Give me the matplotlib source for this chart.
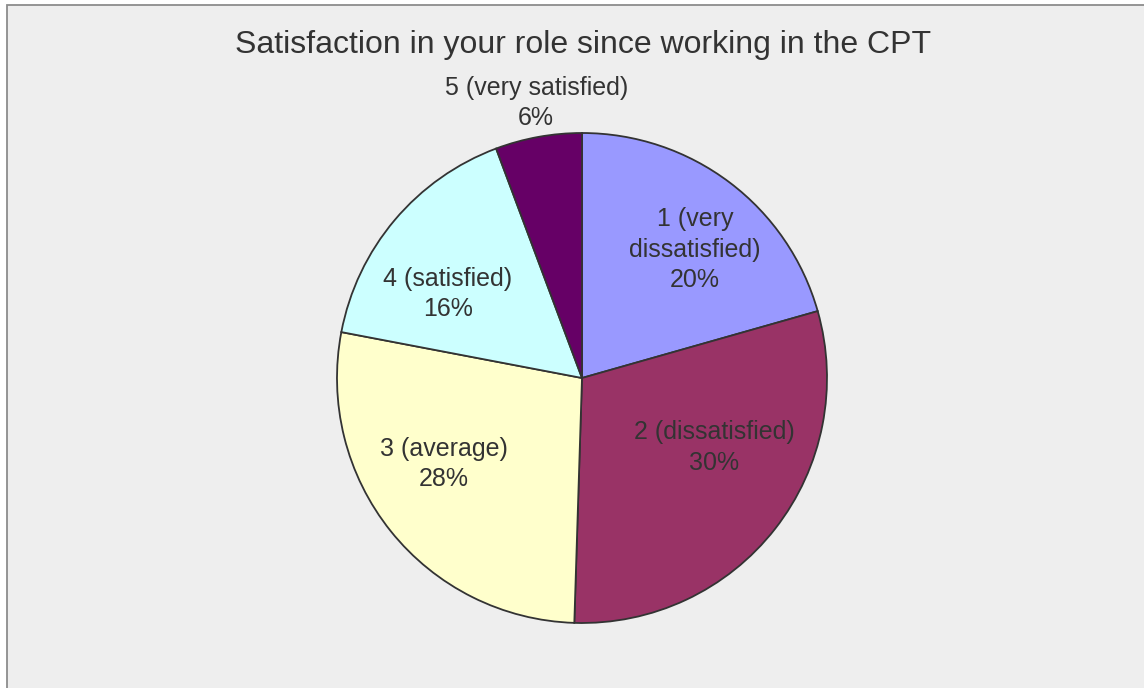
import matplotlib.pyplot as plt
from matplotlib.patches import Rectangle
import numpy as np

plt.rcParams['font.family'] = ['Liberation Sans', 'DejaVu Sans']

# data (wedge sizes as drawn, labels as printed)
categories = ['1 (very\ndissatisfied)', '2 (dissatisfied)', '3 (average)', '4 (satisfied)', '5 (very satisfied)']
shares = [20.6, 29.9, 27.5, 16.3, 5.7]
pct_labels = [20, 30, 28, 16, 6]
colors = ['#9999FF', '#993366', '#FFFFCC', '#CCFFFF', '#660066']
title = 'Satisfaction in your role since working in the CPT'

# label placement (radius fraction, angle shift in degrees)
label_r = [0.698, 0.61, 0.663, 0.645, 1.138]
label_shift = [-4.3, 10.3, -6.8, 8.1, -0.8]

W, H = 1144, 688
fig = plt.figure(figsize=(W / 100, H / 100), dpi=100)
fig.patch.set_facecolor('white')

# chart area background with border on left/top
bg = Rectangle((7 / W, -0.02), 1.05, 1 - 5 / H + 0.02, transform=fig.transFigure,
               facecolor='#EEEEEE', edgecolor='#8C8C8C', linewidth=1.3, zorder=-5)
fig.patches.append(bg)

fig.text(583 / W, 1 - 45 / H, title, ha='center', va='center', fontsize=23, color='#333333')

# pie centred at (582, 378) with radius 245 px
R = 245
lim = 1.25
cx, cy = 582, H - 378
ax = fig.add_axes([(cx - lim * R) / W, (cy - lim * R) / H, 2 * lim * R / W, 2 * lim * R / H])
ax.set_zorder(2)
ax.set_facecolor('none')
wedges, _ = ax.pie(shares, colors=colors, startangle=90, counterclock=False, radius=1,
                   wedgeprops=dict(edgecolor='#333333', linewidth=1.3))
ax.set_xlim(-lim, lim)
ax.set_ylim(-lim, lim)
ax.set_aspect('equal')
ax.axis('off')

for w, cat, p, r, s in zip(wedges, categories, pct_labels, label_r, label_shift):
    mid = np.deg2rad((w.theta1 + w.theta2) / 2 + s)
    ax.text(r * np.cos(mid), r * np.sin(mid), f'{cat}\n{p}%',
            ha='center', va='center', fontsize=18, color='#333333', linespacing=1.35)

fig.savefig('out.png', dpi=100)
